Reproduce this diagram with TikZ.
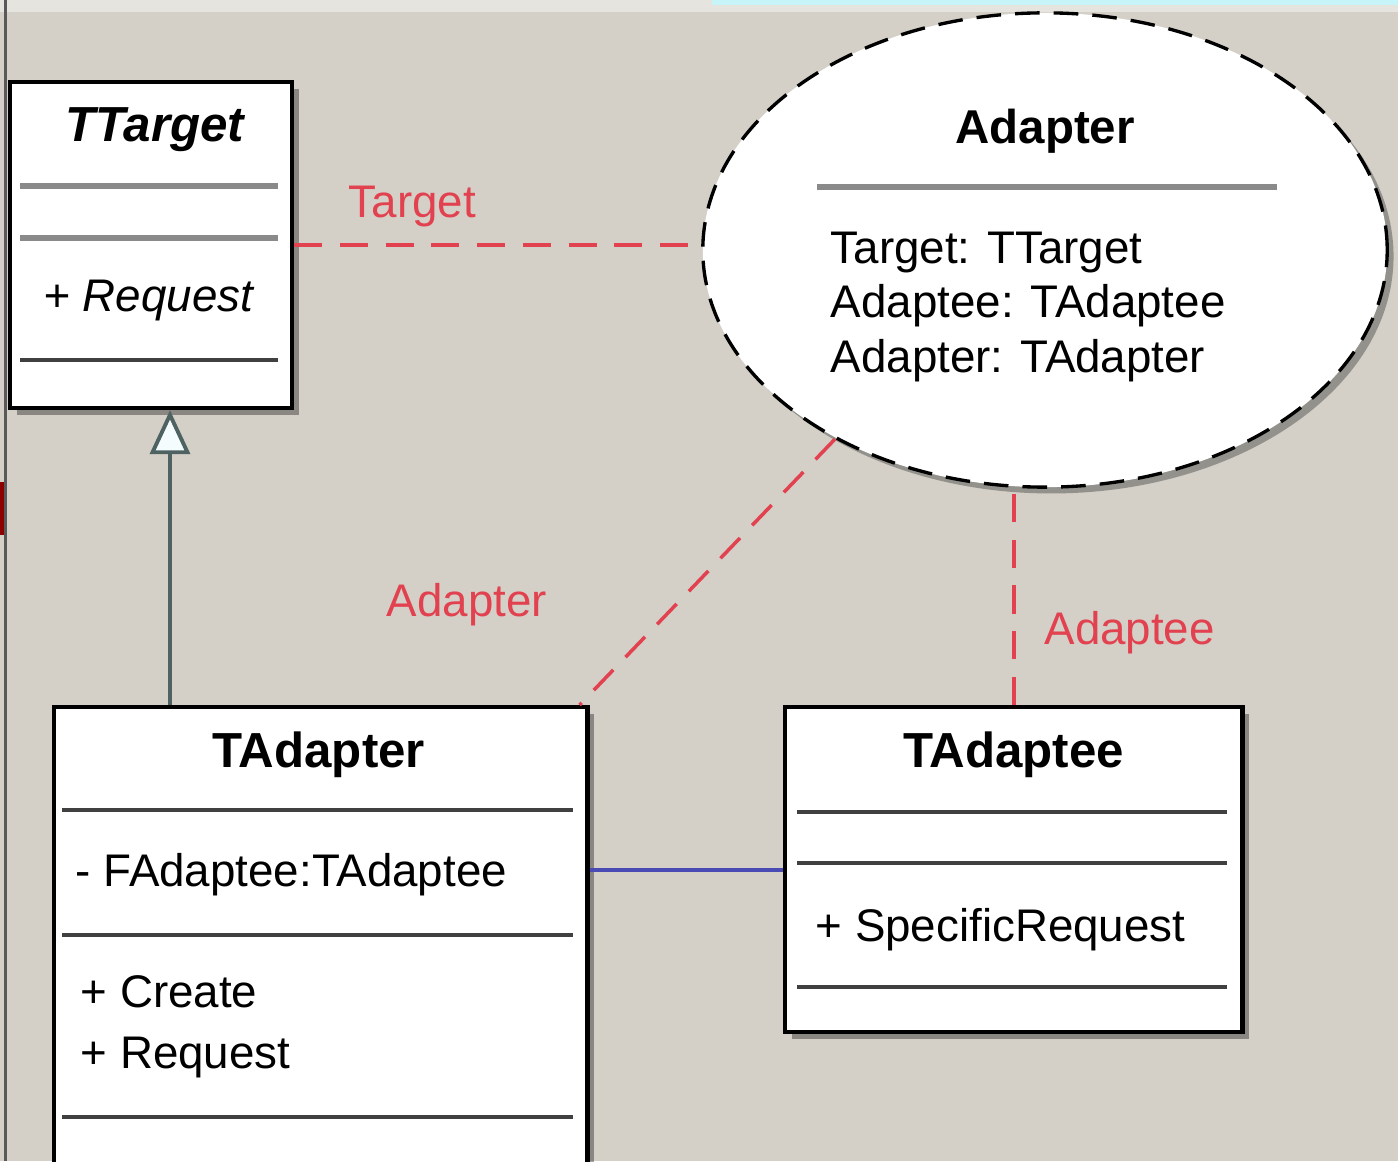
\documentclass[tikz,border=0pt]{standalone}
\usepackage{fontspec}
\setmainfont{Liberation Sans}
\usetikzlibrary{calc,positioning,arrows.meta,shadows,shapes.geometric}
\definecolor{panel}{HTML}{D4D0C8}
\definecolor{topstrip}{HTML}{E6E4DE}
\definecolor{topcyan}{HTML}{C6F4F8}
\definecolor{linkred}{HTML}{E2424F}
\definecolor{assocblue}{HTML}{4A4AB4}
\definecolor{gengray}{HTML}{4E6262}
\definecolor{sepgray}{HTML}{8A8A8A}
\tikzset{
  classbox/.style={draw=black, line width=1.2pt, fill=white, inner sep=0pt,
    drop shadow={shadow xshift=2pt, shadow yshift=-2pt, fill=black, opacity=.35}},
  collabell/.style={ellipse, draw=black, line width=0.95pt, dash pattern=on 7pt off 4pt,
    fill=white, inner sep=0pt,
    drop shadow={shadow xshift=1.8pt, shadow yshift=-1.8pt, fill=black, opacity=.3}},
  classtitle/.style={font=\fontsize{14}{17}\selectfont\bfseries, inner sep=0pt},
  membertext/.style={font=\fontsize{13}{15.6}\selectfont, inner sep=0pt, anchor=west, align=left},
  compline/.style={line width=1.3pt, black!75},
  lightline/.style={line width=1.6pt, sepgray},
  deplink/.style={linkred, line width=1pt, dash pattern=on 8pt off 5pt},
  linklabel/.style={text=linkred, font=\fontsize{13}{15.6}\selectfont, inner sep=0pt},
  assoc/.style={assocblue, line width=1.1pt},
  generalize/.style={gengray, line width=1.1pt,
    -{Triangle[length=0.44cm, width=0.4cm, fill=cyan!4]}},
}
\begin{document}
\begin{tikzpicture}[x=0.01cm, y=-0.01cm]
\fill[panel] (0,0) rectangle (1398,1161);
\useasboundingbox (0,0) rectangle (1398,1161);
\fill[topstrip] (0,0) rectangle (1398,12);
\fill[topcyan] (712,0) rectangle (1398,5);
\fill[black!65] (4,0) rectangle (7,1161);
\fill[red!55!black] (0,482) rectangle (4,535);

\node[classbox, minimum width=2.82cm, minimum height=3.26cm] (ttarget) at (151,245) {};
\node[classbox, minimum width=5.33cm, minimum height=4.8cm, anchor=north west] (tadapter) at (52,705) {};
\node[classbox, minimum width=4.57cm, minimum height=3.25cm, anchor=north west] (tadaptee) at (783,705) {};
\node[collabell, minimum width=6.84cm, minimum height=4.74cm] (collab) at (1045,250) {};

\draw[lightline] ($(ttarget.north west)+(12,106)$) -- ++(258,0);
\draw[lightline] ($(ttarget.north west)+(12,158)$) -- ++(258,0);
\draw[compline] ($(ttarget.north west)+(12,280)$) -- ++(258,0);
\draw[compline] ($(tadapter.north west)+(10,105)$) -- ++(511,0);
\draw[compline] ($(tadapter.north west)+(10,230)$) -- ++(511,0);
\draw[compline] ($(tadapter.north west)+(10,412)$) -- ++(511,0);
\draw[compline] ($(tadaptee.north west)+(14,107)$) -- ++(430,0);
\draw[compline] ($(tadaptee.north west)+(14,158)$) -- ++(430,0);
\draw[compline] ($(tadaptee.north west)+(14,282)$) -- ++(430,0);
\draw[lightline] ($(collab.center)+(-228,-63)$) -- ++(460,0);

\node[classtitle, font=\fontsize{14}{17}\selectfont\bfseries\itshape] (ttarget-name) at ($(ttarget.north)+(4,50)$) {TTarget};
\node[membertext, font=\fontsize{13}{15.6}\selectfont\itshape] (ttarget-ops) at ($(ttarget.north west)+(35,221)$) {+ Request};
\node[classtitle] (tadapter-name) at ($(tadapter.north)+(-2,50)$) {TAdapter};
\node[membertext] (tadapter-attr) at ($(tadapter.north west)+(23,170)$) {- FAdaptee:TAdaptee};
\node[membertext, font=\fontsize{13}{17.3}\selectfont] (tadapter-ops) at ($(tadapter.north west)+(28,322)$) {+ Create\\+ Request};
\node[classtitle] (tadaptee-name) at ($(tadaptee.north)+(0,50)$) {TAdaptee};
\node[membertext] (tadaptee-ops) at ($(tadaptee.north west)+(32,225)$) {+ SpecificRequest};
\node[classtitle, font=\fontsize{13.5}{16}\selectfont\bfseries] (collab-name) at ($(collab.center)+(0,-119)$) {Adapter};
\node[membertext] (collab-roles) at ($(collab.center)+(-215,57)$) {Target: TTarget\\Adaptee: TAdaptee\\Adapter: TAdapter};

\coordinate (genfoot) at ($(tadapter.north west)+(118,0)$);
\draw[generalize] (genfoot) -- (genfoot |- ttarget.south);
\draw[assoc] ($(tadapter.north east)+(0,165)$) -- ($(tadaptee.north west)+(0,165)$);
\draw[deplink] (ttarget.east) -- (ttarget.east -| collab.west)
  node[linklabel, pos=0.29, above=0.16cm] (lbl-target) {Target};
\draw[deplink] (collab.222) -- ($(tadapter.north east)+(-10,0)$)
  node[linklabel, pos=0.6, left=1.33cm, yshift=-0.06cm] (lbl-adapter) {Adapter};
\draw[deplink] (tadaptee.north) -- (tadaptee.north |- collab.south)
  node[linklabel, pos=0.335, right=0.29cm] (lbl-adaptee) {Adaptee};
\end{tikzpicture}
\end{document}
